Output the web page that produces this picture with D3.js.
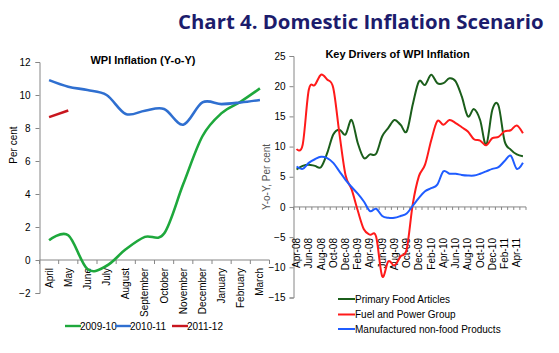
<!DOCTYPE html>
<html lang="en">
  <head>
    <meta charset="UTF-8" />
    <title>Chart 4. Domestic Inflation Scenario</title>
    <script src="https://d3js.org/d3.v7.min.js"></script>
    <style>
      body { margin: 0; background: #fff; }
      svg { display: block; font-family: "Liberation Sans", Arial, sans-serif; }
      .axis path, .axis line { stroke: #868686; }
      .axis text { fill: #000; font-size: 10px; }
      .line { fill: none; }
    </style>
  </head>
  <body>
    <svg width="559" height="353"></svg>
    <script>
      // left panel: WPI inflation, fiscal year months
      const fyMonths = ["April", "May", "June", "July", "August", "September",
        "October", "November", "December", "January", "February", "March"];
      const wpi0910 = [1.2, 1.5, -0.55, -0.35, 0.65, 1.4, 1.6, 4.6, 7.5, 8.9, 9.6, 10.4];
      const wpi1011 = [10.9, 10.5, 10.3, 10.0, 8.85, 9.05, 9.15, 8.2, 9.55, 9.45, 9.55, 9.7];
      const wpi1112 = [8.66, 9.06];
      const leftTicks = [-2, 0, 2, 4, 6, 8, 10, 12];

      // right panel: key drivers, Apr-08 .. May-11
      const months = ["Apr-08", "May-08", "Jun-08", "Jul-08", "Aug-08", "Sep-08", "Oct-08", "Nov-08",
        "Dec-08", "Jan-09", "Feb-09", "Mar-09", "Apr-09", "May-09", "Jun-09", "Jul-09", "Aug-09",
        "Sep-09", "Oct-09", "Nov-09", "Dec-09", "Jan-10", "Feb-10", "Mar-10", "Apr-10", "May-10",
        "Jun-10", "Jul-10", "Aug-10", "Sep-10", "Oct-10", "Nov-10", "Dec-10", "Jan-11", "Feb-11",
        "Mar-11", "Apr-11", "May-11"];
      const primaryFood = [6.2, 6.8, 7.0, 6.8, 6.6, 8.9, 12.0, 12.8, 12.0, 14.4, 10.6, 8.1, 8.7, 8.8,
        11.7, 13.1, 14.4, 13.6, 12.5, 17.0, 20.8, 20.2, 21.9, 20.5, 20.5, 21.3, 20.8, 18.3, 15.0,
        16.2, 14.4, 10.3, 16.1, 16.8, 10.9, 9.5, 8.7, 8.4];
      const fuelPower = [9.6, 10.3, 19.4, 20.2, 21.9, 21.1, 19.7, 12.2, 5.3, 2.9, -0.6, -3.7, -4.6,
        -4.9, -11.5, -9.0, -9.7, -8.2, -7.0, 0.5, 5.1, 7.0, 11.0, 14.2, 13.6, 14.4, 13.9, 13.2,
        12.5, 11.2, 11.0, 10.2, 11.4, 11.6, 12.5, 12.7, 13.5, 12.2];
      const manufNonFood = [6.7, 6.3, 7.3, 7.9, 8.3, 8.1, 7.3, 5.9, 4.5, 3.3, 2.2, 0.9, -0.7, -0.3,
        -1.5, -1.8, -1.8, -1.5, -1.1, 0.2, 1.5, 2.6, 3.1, 3.7, 5.9, 5.5, 5.5, 5.3, 5.2, 5.2, 5.5,
        5.9, 6.3, 6.6, 7.6, 8.5, 6.3, 7.3];
      const rightTicks = [-15, -10, -5, 0, 5, 10, 15, 20, 25];

      const svg = d3.select("svg");
      const curve = d3.curveCardinal.tension(0);

      // main title, font size fitted so it spans about 178..546
      const title = svg.append("text")
        .attr("x", 178).attr("y", 29)
        .style("font-family", "'Open Sans', sans-serif")
        .style("font-weight", "bold").style("font-size", "22px")
        .style("fill", "#1c1c6c")
        .text("Chart 4. Domestic Inflation Scenario");
      const tw = title.node().getComputedTextLength();
      title.style("font-size", (22 * 366 / tw).toFixed(2) + "px");

      // ---------- left chart ----------
      const xL = d3.scaleBand().domain(fyMonths).range([39.5, 269.5]);
      const yL = d3.scaleLinear().domain([-2, 12]).range([293, 62]);

      svg.append("text")
        .attr("x", 143).attr("y", 64).attr("text-anchor", "middle")
        .style("font-weight", "bold").style("font-size", "11px")
        .text("WPI Inflation (Y-o-Y)");

      svg.append("g").attr("class", "axis")
        .attr("transform", "translate(39.5,0)")
        .call(d3.axisLeft(yL).tickValues(leftTicks).tickSize(4).tickPadding(5));

      svg.append("text")
        .attr("transform", "translate(17,145) rotate(-90)")
        .attr("text-anchor", "middle")
        .style("font-size", "10px")
        .text("Per cent");

      const zeroL = yL(0);
      const gxL = svg.append("g").attr("class", "axis");
      gxL.append("line")
        .attr("x1", xL.range()[0]).attr("x2", xL.range()[1])
        .attr("y1", zeroL).attr("y2", zeroL);
      gxL.selectAll(".tk").data(fyMonths.concat(["end"])).join("line")
        .attr("x1", (d, i) => xL.range()[0] + i * xL.step())
        .attr("x2", (d, i) => xL.range()[0] + i * xL.step())
        .attr("y1", zeroL).attr("y2", zeroL + 4);
      gxL.selectAll("text").data(fyMonths).join("text")
        .attr("transform", d => `translate(${xL(d) + xL.bandwidth() / 2},${zeroL + 8}) rotate(-90)`)
        .attr("text-anchor", "end").attr("dy", "0.35em")
        .text(d => d);

      const lineL = d3.line()
        .x((d, i) => xL(fyMonths[i]) + xL.bandwidth() / 2)
        .y(d => yL(d))
        .curve(curve);

      const leftSeries = [
        { name: "2009-10", values: wpi0910, color: "#1ea83c" },
        { name: "2010-11", values: wpi1011, color: "#2f6fd0" },
        { name: "2011-12", values: wpi1112, color: "#c8161e" },
      ];
      svg.selectAll(".lineL").data(leftSeries).join("path")
        .attr("class", "line lineL")
        .attr("d", d => lineL(d.values))
        .style("stroke", d => d.color)
        .style("stroke-width", 2.6);

      const legL = svg.append("g");
      const legX = [65, 115, 172];
      leftSeries.forEach((s, i) => {
        legL.append("line")
          .attr("x1", legX[i]).attr("x2", legX[i] + 16)
          .attr("y1", 326).attr("y2", 326)
          .style("stroke", s.color).style("stroke-width", 2.4);
        legL.append("text")
          .attr("x", legX[i] + 15).attr("y", 329.5)
          .style("font-size", "10px")
          .text(s.name);
      });

      // ---------- right chart ----------
      const xR = d3.scaleBand().domain(months).range([293.5, 526]);
      const yR = d3.scaleLinear().domain([-15, 25]).range([297.5, 56]);

      svg.append("text")
        .attr("x", 397.5).attr("y", 58).attr("text-anchor", "middle")
        .style("font-weight", "bold").style("font-size", "11px")
        .text("Key Drivers of WPI Inflation");

      svg.append("g").attr("class", "axis")
        .attr("transform", "translate(293.5,0)")
        .call(d3.axisLeft(yR).tickValues(rightTicks).tickSize(4).tickPadding(4));

      svg.append("text")
        .attr("transform", `translate(270,177) rotate(-90)`)
        .attr("text-anchor", "middle")
        .style("font-size", "10px").style("fill", "#555")
        .text("Y-o-Y, Per cent");

      const zeroR = yR(0);
      const gxR = svg.append("g").attr("class", "axis");
      gxR.append("line")
        .attr("x1", xR.range()[0]).attr("x2", xR.range()[1])
        .attr("y1", zeroR).attr("y2", zeroR);
      gxR.selectAll(".tk").data(months.concat(["end"])).join("line")
        .attr("x1", (d, i) => xR.range()[0] + i * xR.step())
        .attr("x2", (d, i) => xR.range()[0] + i * xR.step())
        .attr("y1", zeroR).attr("y2", zeroR + 3);
      gxR.selectAll("text").data(months.filter((d, i) => i % 2 === 0)).join("text")
        .attr("transform", d => `translate(${xR(d) + xR.bandwidth() / 2},238) rotate(-90)`)
        .attr("text-anchor", "end").attr("dy", "0.35em")
        .text(d => d);

      const lineR = d3.line()
        .x((d, i) => xR(months[i]) + xR.bandwidth() / 2)
        .y(d => yR(d))
        .curve(curve);

      const rightSeries = [
        { name: "Primary Food Articles", values: primaryFood, color: "#1b5e1b" },
        { name: "Fuel and Power Group", values: fuelPower, color: "#ff1a1a" },
        { name: "Manufactured non-food Products", values: manufNonFood, color: "#1f5cff" },
      ];
      svg.selectAll(".lineR").data(rightSeries).join("path")
        .attr("class", "line lineR")
        .attr("d", d => lineR(d.values))
        .style("stroke", d => d.color)
        .style("stroke-width", 2);

      const legY = [299, 314.5, 329];
      rightSeries.forEach((s, i) => {
        svg.append("line")
          .attr("x1", 338).attr("x2", 355)
          .attr("y1", legY[i]).attr("y2", legY[i])
          .style("stroke", s.color).style("stroke-width", 2);
        svg.append("text")
          .attr("x", 355).attr("y", legY[i] + 3.5)
          .style("font-size", "10px")
          .text(s.name);
      });
    </script>
  </body>
</html>
